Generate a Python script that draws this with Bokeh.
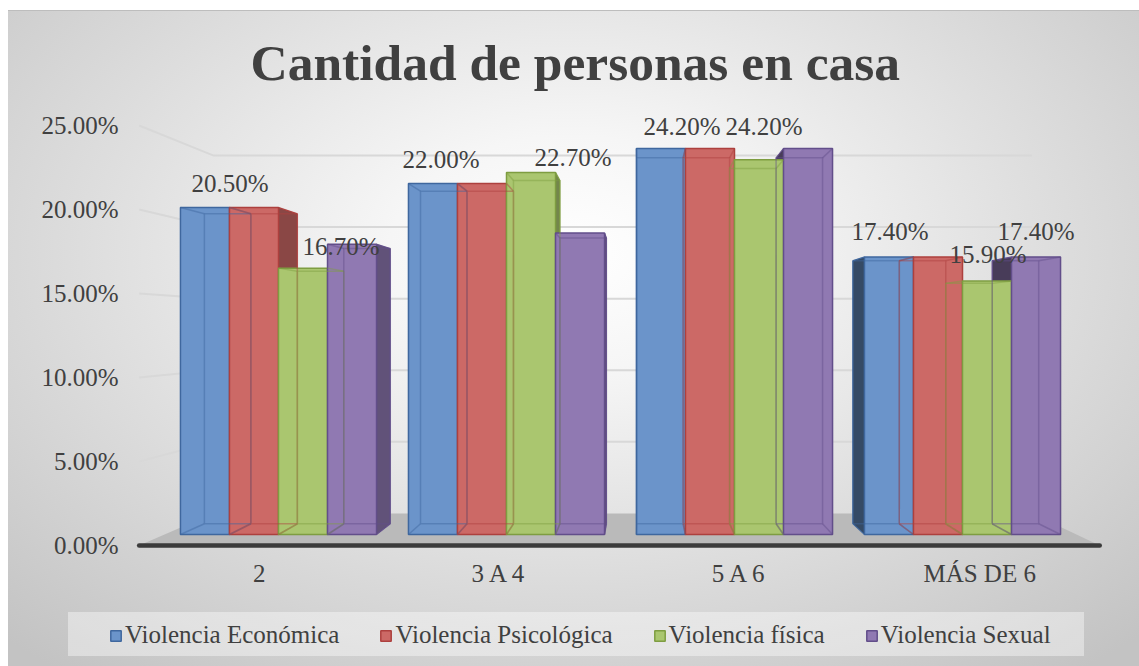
import numpy as np
from bokeh.plotting import figure
from bokeh.layouts import column
from bokeh.models import (Range1d, LinearAxis, FixedTicker, PrintfTickFormatter,
                          ColumnDataSource, LabelSet, Legend, LegendItem)
from bokeh.embed import file_html
from bokeh.resources import INLINE

# ---------------- data ----------------
categories = ["2", "3 A 4", "5 A 6", "MÁS DE 6"]
series_names = ["Violencia Económica", "Violencia Psicológica", "Violencia física", "Violencia Sexual"]
econ = [20.5, 22.0, 24.2, 17.4]
psic = [20.5, 22.0, 24.2, 17.4]
fisica = [16.7, 22.7, 23.5, 15.9]
sexual = [18.2, 18.9, 24.2, 17.4]
y_ticks = [0, 5, 10, 15, 20, 25]
series_values = [econ, psic, fisica, sexual]

# which data labels are visible (group, series) and their pixel nudges (style)
shown_labels = [(0, 0), (0, 2), (1, 0), (1, 2), (2, 0), (2, 3), (3, 0), (3, 2), (3, 3)]
label_dx = [25, 38, 8, 42, 21, -44, 1, 1, 0]
label_dy = [16, 13, 16, 6, 14, 14, 17, 18, 17]

# ---------------- styles / geometry ----------------
FONT = "Liberation Serif"
TXT = "#404040"
fill = ["#6b94ca", "#cc6966", "#aac66f", "#9079b2"]
edge = ["#3f679e", "#ad403e", "#7e9d41", "#624e8a"]

W, H1, H2 = 1139, 606, 60
FRAME_L, FRAME_R, FRAME_T, FRAME_B = 130, 1110, 100, 560   # page px
X0_PX, X_SCALE = 164.0, 228.0     # page px of x=0 and px per category
Y0_PX, Y_SCALE = 534.0, 15.95     # page px of value 0 and px per percent
VP_PX = (640.0, 328.0)            # vanishing point (page px)
T_AXIS, T_BACK, T_WALL = -0.0533, 0.052, 0.102
BAR_W = 0.215
LEGEND_SHIFT = 24                 # px the legend strip is moved left


def px2x(px):
    return (px - X0_PX) / X_SCALE


def px2v(py):
    return (Y0_PX - py) / Y_SCALE


VPX, VPV = px2x(VP_PX[0]), px2v(VP_PX[1])


def proj(x, v, t):
    return x + t * (VPX - x), v + t * (VPV - v)


def shade(hexc, f):
    h = hexc.lstrip("#")
    r, g, b = (int(h[i:i + 2], 16) for i in (0, 2, 4))
    return "#%02x%02x%02x" % (int(r * f), int(g * f), int(b * f))


x_start, x_end = px2x(FRAME_L), px2x(FRAME_R)
y_start, y_end = px2v(FRAME_B), px2v(FRAME_T)

p = figure(width=W, height=H1, output_backend="svg", toolbar_location=None,
           x_range=Range1d(x_start, x_end), y_range=Range1d(y_start, y_end),
           x_axis_location=None, y_axis_location=None,
           min_border_left=FRAME_L, min_border_right=W - FRAME_R,
           min_border_top=FRAME_T, min_border_bottom=H1 - FRAME_B,
           title="Cantidad de personas en casa")
p.background_fill_alpha = 0
p.border_fill_alpha = 0
p.outline_line_color = None
p.grid.visible = False

p.title.text_font = FONT
p.title.text_font_size = "51.5px"
p.title.text_font_style = "bold"
p.title.text_color = TXT
p.title.align = "left"
p.title.offset = 120
p.title.standoff = 20

# extra ranges for the axis plane (front edge of the floor)
p.extra_y_ranges = {"axis": Range1d((y_start - T_AXIS * VPV) / (1 - T_AXIS),
                                    (y_end - T_AXIS * VPV) / (1 - T_AXIS))}
p.extra_x_ranges = {"floor": Range1d((x_start - T_AXIS * VPX) / (1 - T_AXIS),
                                     (x_end - T_AXIS * VPX) / (1 - T_AXIS))}

yax = LinearAxis(y_range_name="axis", ticker=FixedTicker(ticks=y_ticks),
                 formatter=PrintfTickFormatter(format="%.2f%%"))
xax = LinearAxis(x_range_name="floor",
                 ticker=FixedTicker(ticks=[i + 0.5 for i in range(len(categories))]),
                 major_label_overrides={i + 0.5: c for i, c in enumerate(categories)})
for ax in (yax, xax):
    ax.axis_line_color = None
    ax.major_tick_line_color = None
    ax.minor_tick_line_color = None
    ax.major_tick_out = 0
    ax.major_tick_in = 0
    ax.minor_tick_out = 0
    ax.major_label_text_font = FONT
    ax.major_label_text_font_size = "25px"
    ax.major_label_text_color = TXT
yax.major_label_standoff = 12
xax.major_label_standoff = -1
p.add_layout(yax, "left")
p.add_layout(xax, "below")

n = len(categories)

# gridlines: left wall then back wall
gx, gy = [], []
for tv in y_ticks[1:]:
    pts = [proj(0, tv, T_AXIS), proj(0, tv, T_WALL), proj(n, tv, T_WALL)]
    gx.append([q[0] for q in pts])
    gy.append([q[1] for q in pts])
p.multi_line(gx, gy, line_color="#d8d8d8", line_width=2)

# floor
fl = [proj(0, 0, T_AXIS), proj(n, 0, T_AXIS), proj(n, 0, T_WALL), proj(0, 0, T_WALL)]
p.patch([q[0] for q in fl], [q[1] for q in fl], fill_color="#bababa", line_color=None)
p.line([fl[0][0], fl[1][0]], [fl[0][1], fl[1][1]], line_color="#3b3b3b", line_width=4.5,
       line_cap="round")

# bar geometry
bars = []
for s, vals in enumerate(series_values):
    for i, v in enumerate(vals):
        x0 = i + 0.5 + (s - 2) * BAR_W
        bars.append((s, i, x0, x0 + BAR_W, v))

# side faces
sx, sy, sc, se = [], [], [], []
for s, i, x0, x1, v in bars:
    xc = (x0 + x1) / 2
    xe, f = (x1, 0.68) if xc < VPX else (x0, 0.5)
    pts = [(xe, 0), (xe, v), proj(xe, v, T_BACK), proj(xe, 0, T_BACK)]
    sx.append([q[0] for q in pts])
    sy.append([q[1] for q in pts])
    sc.append(shade(fill[s], f))
    se.append(edge[s])
p.patches(sx, sy, fill_color=sc, line_color=se, line_width=1)

# front faces
for s, vals in enumerate(series_values):
    src = ColumnDataSource(dict(
        left=[i + 0.5 + (s - 2) * BAR_W for i in range(n)],
        right=[i + 0.5 + (s - 1) * BAR_W for i in range(n)],
        top=vals, bottom=[0] * n))
    p.quad(left="left", right="right", top="top", bottom="bottom", source=src,
           fill_color=fill[s], line_color=edge[s], line_width=1.5)

# back edges seen through the translucent faces
bx, by, bc = [], [], []
for s, i, x0, x1, v in bars:
    fr = [(x0, 0), (x1, 0), (x1, v), (x0, v)]
    bk = [proj(a, b, T_BACK) for a, b in fr]
    bx.append([q[0] for q in bk + [bk[0]]])
    by.append([q[1] for q in bk + [bk[0]]])
    bc.append(edge[s])
    for a, b in zip(fr, bk):
        bx.append([a[0], b[0]])
        by.append([a[1], b[1]])
        bc.append(edge[s])
p.multi_line(bx, by, line_color=bc, line_alpha=0.45, line_width=1.5)

# data labels
lab = dict(x=[], y=[], text=[], dx=[], dy=[])
for (g, s), dx, dy in zip(shown_labels, label_dx, label_dy):
    v = series_values[s][g]
    lab["x"].append(g + 0.5 + (s - 1.5) * BAR_W)
    lab["y"].append(v)
    lab["text"].append(f"{v:.2f}%")
    lab["dx"].append(dx)
    lab["dy"].append(dy)
ls = LabelSet(x="x", y="y", text="text", x_offset="dx", y_offset="dy",
              source=ColumnDataSource(lab), text_align="center", text_baseline="alphabetic",
              text_font=FONT, text_font_size="25px", text_color=TXT)
p.add_layout(ls)

# ---------------- legend strip (second figure, page-pixel ranges) ----------------
p2 = figure(width=W, height=H2, output_backend="svg", toolbar_location=None,
            x_range=Range1d(FRAME_L, FRAME_R), y_range=Range1d(H1 + H2, H1),
            x_axis_location=None, y_axis_location=None,
            min_border_left=FRAME_L, min_border_right=W - FRAME_R,
            min_border_top=0, min_border_bottom=0)
p2.background_fill_alpha = 0
p2.border_fill_alpha = 0
p2.outline_line_color = None
p2.grid.visible = False
p2.styles = {"transform": f"translateX(-{LEGEND_SHIFT}px)"}
items = []
for s, nm in enumerate(series_names):
    # swatch renderer for the legend (kept outside the visible strip)
    r = p2.quad(left=[0], right=[1], top=[0], bottom=[1], fill_color=fill[s],
                line_color=edge[s], line_width=1.5)
    items.append(LegendItem(label=nm, renderers=[r]))
legend = Legend(items=items, orientation="horizontal", location=(3, 17),
                label_text_font=FONT, label_text_font_size="25px", label_text_color=TXT,
                glyph_width=13, glyph_height=13, label_standoff=3, spacing=40,
                padding=0, margin=0, background_fill_alpha=0, border_line_color=None)
p2.add_layout(legend)

layout = column(p, p2, spacing=0, styles={"background": (
    "linear-gradient(rgba(255,255,255,0.4),rgba(255,255,255,0.4)) 68px 612px / 1016px 44px no-repeat, "
    "linear-gradient(#ffffff,#ffffff) 0 0 / 100% 10px no-repeat, "
    "linear-gradient(#ffffff,#ffffff) 0 0 / 8px 100% no-repeat, "
    "linear-gradient(#bdbdbd,#bdbdbd) 8px 10px / 100% 1px no-repeat, "
    "radial-gradient(ellipse 72% 80% at 50% 38%, #ffffff 0%, #f6f6f6 22%, #e0e0e0 55%, #c3c3c3 100%)")})

open("out.html", "w").write(file_html(layout, INLINE))
